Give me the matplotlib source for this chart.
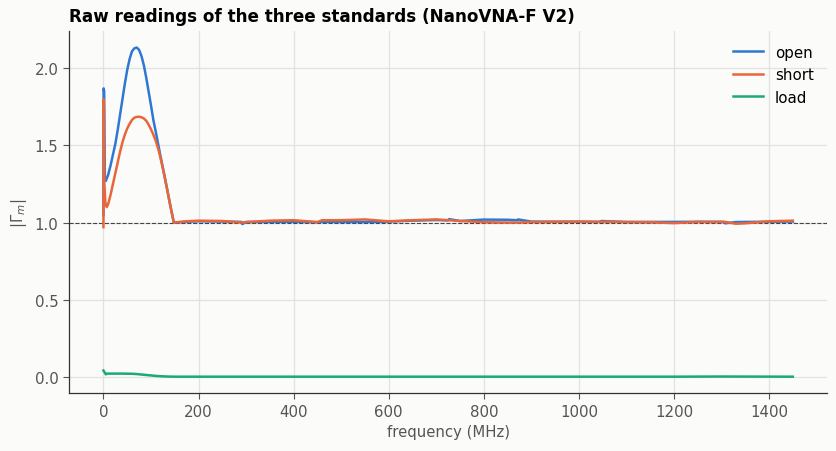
import matplotlib
matplotlib.use("Agg")
import matplotlib.pyplot as plt
import numpy as np

# readings (frequency in MHz, |Gamma_m|)
f_low = [0, 0.5, 1.5, 3, 5, 10, 15, 20, 25, 30, 35, 40, 45, 50, 55, 60, 65, 70, 75, 80,
         85, 90, 95, 100, 105, 110, 115, 120, 125, 130, 135, 140, 145, 148]
open_low = [1.05, 1.87, 1.85, 1.28, 1.27, 1.31, 1.37, 1.44, 1.51, 1.60, 1.70, 1.80, 1.90, 1.99,
            2.06, 2.11, 2.13, 2.135, 2.12, 2.08, 2.02, 1.94, 1.85, 1.76, 1.665, 1.59, 1.51, 1.43,
            1.355, 1.28, 1.20, 1.12, 1.045, 1.0]

f_short_low = [0, 0.5, 1, 2, 4, 7, 10, 15, 20, 25, 30, 35, 40, 45, 50, 55, 60, 65, 70, 75, 80,
               85, 90, 95, 100, 105, 110, 115, 120, 125, 130, 135, 140, 145, 148]
short_low = [0.97, 1.80, 1.75, 1.25, 1.13, 1.10, 1.12, 1.18, 1.25, 1.32, 1.39, 1.46, 1.52, 1.57,
             1.61, 1.64, 1.665, 1.68, 1.685, 1.686, 1.683, 1.675, 1.66, 1.635, 1.605, 1.57, 1.53,
             1.48, 1.42, 1.35, 1.275, 1.20, 1.12, 1.045, 1.0]

f_high = [175, 200, 250, 290, 292, 300, 350, 400, 450, 460, 500, 550, 600, 650, 700, 725, 727,
          750, 800, 850, 870, 872, 900, 950, 1000, 1045, 1047, 1100, 1150, 1200, 1250, 1305,
          1308, 1330, 1350, 1400, 1450]
open_high = [1.005, 1.008, 1.006, 1.004, 0.99, 1.003, 1.004, 1.005, 1.002, 1.004, 1.004, 1.003,
             1.006, 1.012, 1.016, 1.014, 1.022, 1.01, 1.019, 1.018, 1.015, 1.02, 1.006, 1.005,
             1.005, 1.004, 1.01, 1.003, 1.004, 1.004, 1.005, 1.004, 0.995, 1.003, 1.004,
             1.005, 1.006]
short_high = [1.008, 1.012, 1.01, 1.0, 1.0, 1.003, 1.012, 1.015, 1.003, 1.015, 1.015, 1.02,
              1.008, 1.015, 1.02, 1.015, 1.015, 1.01, 1.002, 1.0, 1.0, 1.0, 1.003, 1.005,
              1.006, 1.005, 1.005, 1.004, 1.002, 0.996, 1.004, 1.004, 1.004, 0.992, 0.995,
              1.008, 1.012]

f_load = [0, 2, 5, 8, 20, 40, 60, 70, 80, 90, 100, 110, 120, 135, 150, 300, 600, 900, 1200,
          1300, 1450]
load = [0.04, 0.03, 0.015, 0.02, 0.02, 0.02, 0.019, 0.017, 0.014, 0.011, 0.008, 0.005, 0.003,
        0.001, 0.0, 0.0, 0.0, 0.0, 0.0, 0.001, 0.0]

f_open = f_low + f_high
open_ = open_low + open_high
f_short = f_short_low + f_high
short = short_low + short_high

bg = "#fbfbf9"
plt.rcParams["font.family"] = "DejaVu Sans"
fig = plt.figure(figsize=(8.37, 4.52), dpi=100, facecolor=bg)
ax = fig.add_axes([0.0824, 0.128, 0.906, 0.801])
ax.set_facecolor(bg)

ax.plot(f_open, open_, color="#2e78d4", lw=1.8, label="open")
ax.plot(f_short, short, color="#e8663a", lw=1.8, label="short")
ax.plot(f_load, load, color="#1aa978", lw=1.8, label="load")
ax.axhline(1.0, color="#444444", lw=0.8, ls="--", zorder=1)

ax.grid(True, color="#e2e2e2", lw=0.9)
ax.set_axisbelow(True)
for s in ["top", "right"]:
    ax.spines[s].set_visible(False)
for s in ["left", "bottom"]:
    ax.spines[s].set_color("#333333")
    ax.spines[s].set_linewidth(0.9)
ax.tick_params(colors="#555555", labelsize=10.8, length=4)
ax.set_yticks([0.0, 0.5, 1.0, 1.5, 2.0])
ax.set_xlabel("frequency (MHz)", color="#555555", fontsize=10.7)
ax.set_ylabel(r"$|\Gamma_m|$", color="#555555", fontsize=10.7)
ax.set_title("Raw readings of the three standards (NanoVNA-F V2)", loc="left",
             fontweight="bold", fontsize=12.1, pad=7)
ax.legend(loc="upper right", frameon=False, fontsize=10.8)

fig.savefig("out.png", dpi=100, facecolor=bg)
